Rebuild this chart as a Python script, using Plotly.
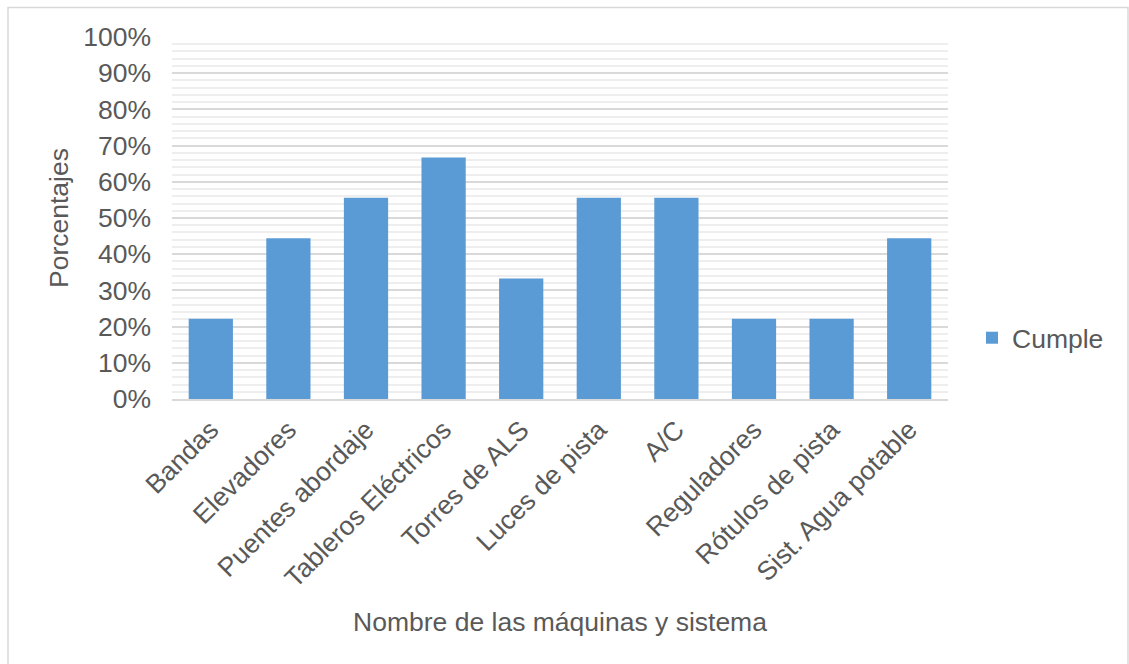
import plotly.graph_objects as go

categories = ["Bandas", "Elevadores", "Puentes abordaje", "Tableros Eléctricos",
              "Torres de ALS", "Luces de pista", "A/C", "Reguladores",
              "Rótulos de pista", "Sist. Agua potable"]
cumple = [0.222, 0.444, 0.556, 0.667, 0.333, 0.556, 0.556, 0.222, 0.222, 0.444]
series_name = "Cumple"
x_title = "Nombre de las máquinas y sistema"
y_title = "Porcentajes"

FONT = "Liberation Sans, Arial, sans-serif"
TXT = "#595959"
FS = 26.5

fig = go.Figure()
fig.add_trace(go.Bar(x=categories, y=cumple, name=series_name,
                     marker=dict(color="#5b9bd5", line=dict(width=0))))

W, H = 1129, 664
L, R, T, B = 172, 948, 37, 399
pw, ph = R - L, B - T

def px2paper_x(px):
    return (px - L) / pw

def px2paper_y(py):
    return (B - py) / ph

fig.update_layout(
    width=W, height=H,
    margin=dict(l=L, r=W - R, t=T, b=H - B, autoexpand=False),
    paper_bgcolor="white", plot_bgcolor="white",
    font=dict(family=FONT, size=FS, color=TXT),
    bargap=0.43,
    showlegend=True,
    legend=dict(x=px2paper_x(972), y=px2paper_y(338), xanchor="left", yanchor="middle",
                font=dict(size=FS, color=TXT), bgcolor="rgba(0,0,0,0)",
                itemwidth=30, tracegroupgap=0),
    xaxis=dict(
        tickangle=-45, tickfont=dict(size=FS, color=TXT),
        showline=True, linecolor="#d9d9d9", linewidth=1.5,
        ticks="", showgrid=False, automargin=False, ticklabelstandoff=3,
        title=dict(text=x_title, font=dict(size=FS, color=TXT), standoff=20),
    ),
    yaxis=dict(
        range=[0, 1], dtick=0.1, tickformat=".0%",
        tickfont=dict(size=FS, color=TXT), ticklabelstandoff=20,
        showgrid=True, gridcolor="#d9d9d9", gridwidth=1.5,
        zeroline=False, showline=False, ticks="", automargin=False,
        minor=dict(dtick=0.02, showgrid=True, gridcolor="#eeeeee", gridwidth=1.5),
        title=dict(text=y_title, font=dict(size=FS, color=TXT), standoff=6),
    ),
)

fig.add_shape(type="rect", xref="paper", yref="paper",
              x0=px2paper_x(8), x1=px2paper_x(1128),
              y0=px2paper_y(680), y1=px2paper_y(7.5),
              line=dict(color="#d9d9d9", width=1.5), fillcolor="rgba(0,0,0,0)",
              layer="below")

fig.write_html("out.html")
